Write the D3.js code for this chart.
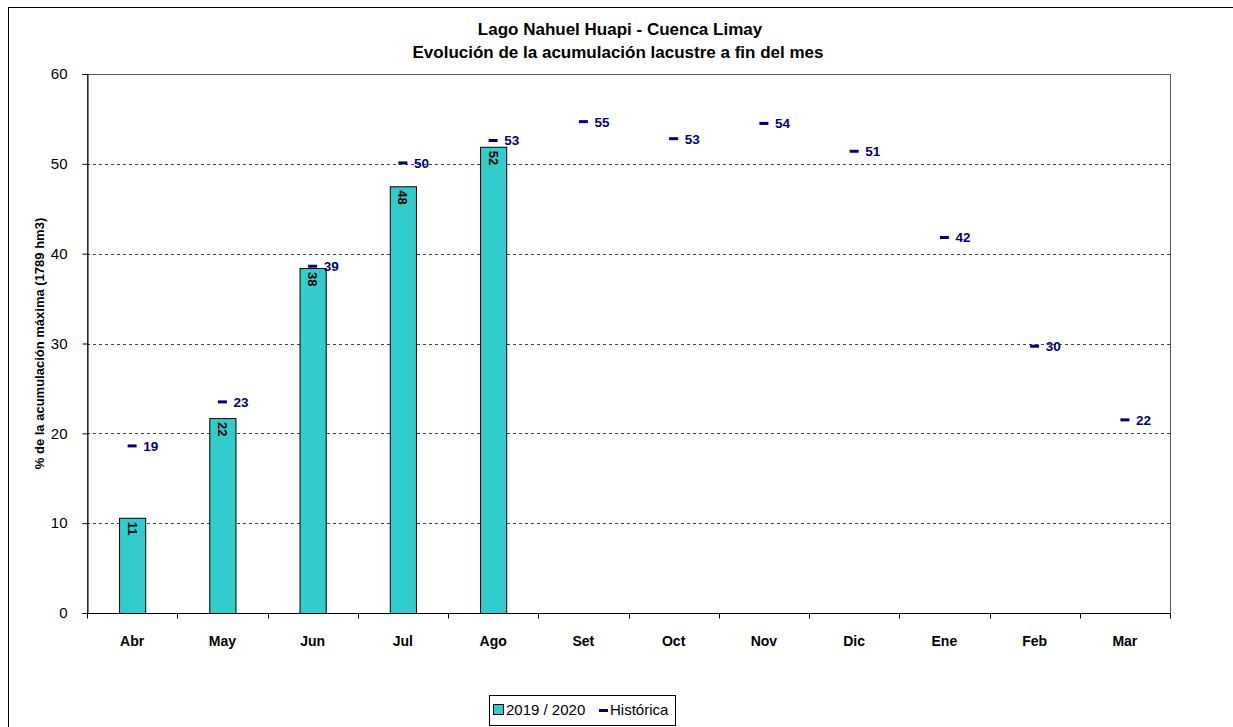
<!DOCTYPE html>
<html>
<head>
<meta charset="utf-8">
<script src="https://cdn.jsdelivr.net/npm/d3@7"></script>
<style>
  body { margin: 0; background: #fff; }
  svg text { font-family: "Liberation Sans", Arial, sans-serif; }
</style>
</head>
<body>
<div id="chart"></div>
<script>
// data
var months = ["Abr", "May", "Jun", "Jul", "Ago", "Set", "Oct", "Nov", "Dic", "Ene", "Feb", "Mar"];
var actual = [10.6, 21.7, 38.4, 47.5, 51.9];            // 2019 / 2020
var actualLabels = ["11", "22", "38", "48", "52"];
var historica = [18.6, 23.5, 38.6, 50.1, 52.6, 54.7, 52.8, 54.5, 51.4, 41.8, 29.7, 21.5];
var historicaLabels = ["19", "23", "39", "50", "53", "55", "53", "54", "51", "42", "30", "22"];
var yTicks = [0, 10, 20, 30, 40, 50, 60];

var W = 1233, H = 727;
var margin = {top: 74, right: 63, bottom: 114, left: 87},
    width = W - margin.left - margin.right,
    height = H - margin.top - margin.bottom;

var root = d3.select("#chart").append("svg")
    .attr("width", W)
    .attr("height", H);

// outer chart border
root.append("rect")
    .attr("x", 8.5).attr("y", 7.5)
    .attr("width", W + 10).attr("height", H + 10)
    .attr("fill", "none")
    .attr("stroke", "#000")
    .attr("stroke-width", 1);

// title
root.append("text")
    .attr("x", 620).attr("y", 35)
    .attr("text-anchor", "middle")
    .style("font-size", "17px").style("font-weight", "bold")
    .text("Lago Nahuel Huapi - Cuenca Limay");
root.append("text")
    .attr("x", 618).attr("y", 58)
    .attr("text-anchor", "middle")
    .style("font-size", "17px").style("font-weight", "bold")
    .text("Evolución de la acumulación lacustre a fin del mes");

var svg = root.append("g")
    .attr("transform", "translate(" + margin.left + "," + margin.top + ")");

var x = d3.scaleBand()
    .domain(months)
    .range([0, width])
    .paddingInner(0.71)
    .paddingOuter(0.355);

var xc = function(m) { return x(m) + x.bandwidth() / 2; };

var y = d3.scaleLinear()
    .domain([0, 60])
    .range([height, 0]);

// plot area border
svg.append("rect")
    .attr("x", 0.5).attr("y", 0.5)
    .attr("width", width).attr("height", height)
    .attr("fill", "none")
    .attr("stroke", "#555")
    .attr("stroke-width", 1);

// gridlines
svg.append("g")
  .selectAll("line")
  .data(yTicks.filter(function(d) { return d > 0 && d < 60; }))
  .enter().append("line")
    .attr("x1", 0).attr("x2", width)
    .attr("y1", function(d) { return Math.round(y(d)) + 0.5; })
    .attr("y2", function(d) { return Math.round(y(d)) + 0.5; })
    .attr("stroke", "#444")
    .attr("stroke-dasharray", "3,3");

// y axis
var yAxis = svg.append("g")
    .attr("transform", "translate(0.5,0)")
    .call(d3.axisLeft(y).tickValues(yTicks).tickSize(5).tickPadding(15));
yAxis.selectAll("text").style("font-size", "15px").attr("fill", "#000");
yAxis.select(".domain").attr("stroke", "#000");

// x axis with ticks at category boundaries
var xAxisG = svg.append("g")
    .attr("transform", "translate(0," + (height + 0.5) + ")");
xAxisG.append("line")
    .attr("x1", 0).attr("x2", width)
    .attr("stroke", "#000");
xAxisG.selectAll(".tk")
  .data(d3.range(months.length + 1))
  .enter().append("line")
    .attr("class", "tk")
    .attr("x1", function(i) { return Math.round(i * width / months.length) + 0.5; })
    .attr("x2", function(i) { return Math.round(i * width / months.length) + 0.5; })
    .attr("y1", 0).attr("y2", 5)
    .attr("stroke", "#000");
xAxisG.selectAll(".lbl")
  .data(months)
  .enter().append("text")
    .attr("class", "lbl")
    .attr("x", xc)
    .attr("y", 32)
    .attr("text-anchor", "middle")
    .style("font-size", "14px").style("font-weight", "bold")
    .text(function(d) { return d; });

// y axis title
root.append("text")
    .attr("transform", "translate(44," + (margin.top + height / 2) + ") rotate(-90)")
    .attr("text-anchor", "middle")
    .style("font-size", "13px").style("font-weight", "bold")
    .text("% de la acumulación máxima (1789 hm3)");

// bars
var barData = actual.map(function(v, i) { return {m: months[i], v: v, l: actualLabels[i]}; });
svg.append("g")
  .selectAll("rect")
  .data(barData)
  .enter().append("rect")
    .attr("x", function(d) { return x(d.m) + 0.5; })
    .attr("y", function(d) { return y(d.v) + 0.5; })
    .attr("width", x.bandwidth())
    .attr("height", function(d) { return height - y(d.v); })
    .attr("fill", "#33cccc")
    .attr("stroke", "#000")
    .attr("stroke-width", 1);

svg.append("g")
  .selectAll("text")
  .data(barData)
  .enter().append("text")
    .attr("transform", function(d) {
      return "translate(" + (xc(d.m) - 4.5) + "," + (y(d.v) + 4) + ") rotate(90)";
    })
    .style("font-size", "13px").style("font-weight", "bold")
    .attr("fill", "#000")
    .text(function(d) { return d.l; });

// historic markers
var histData = historica.map(function(v, i) { return {m: months[i], v: v, l: historicaLabels[i]}; });
svg.append("g")
  .selectAll("rect")
  .data(histData)
  .enter().append("rect")
    .attr("x", function(d) { return xc(d.m) - 4.5; })
    .attr("y", function(d) { return y(d.v) - 1.5; })
    .attr("width", 9)
    .attr("height", 3)
    .attr("fill", "#000080");

svg.append("g")
  .selectAll("text")
  .data(histData)
  .enter().append("text")
    .attr("x", function(d) { return xc(d.m) + 11; })
    .attr("y", function(d) { return y(d.v) + 5; })
    .style("font-size", "13.5px").style("font-weight", "bold")
    .attr("fill", "#000080")
    .text(function(d) { return d.l; });

// legend
var lg = root.append("g").attr("transform", "translate(489,695)");
lg.append("rect")
    .attr("x", 0.5).attr("y", 0.5)
    .attr("width", 186).attr("height", 30)
    .attr("fill", "#fff")
    .attr("stroke", "#000");
lg.append("rect")
    .attr("x", 4.5).attr("y", 9.5)
    .attr("width", 10).attr("height", 10)
    .attr("fill", "#33cccc")
    .attr("stroke", "#000");
lg.append("text")
    .attr("x", 17).attr("y", 20)
    .style("font-size", "15px")
    .text("2019 / 2020");
lg.append("rect")
    .attr("x", 110).attr("y", 14)
    .attr("width", 9).attr("height", 3)
    .attr("fill", "#000080");
lg.append("text")
    .attr("x", 121).attr("y", 20)
    .style("font-size", "15px")
    .text("Histórica");
</script>
</body>
</html>
